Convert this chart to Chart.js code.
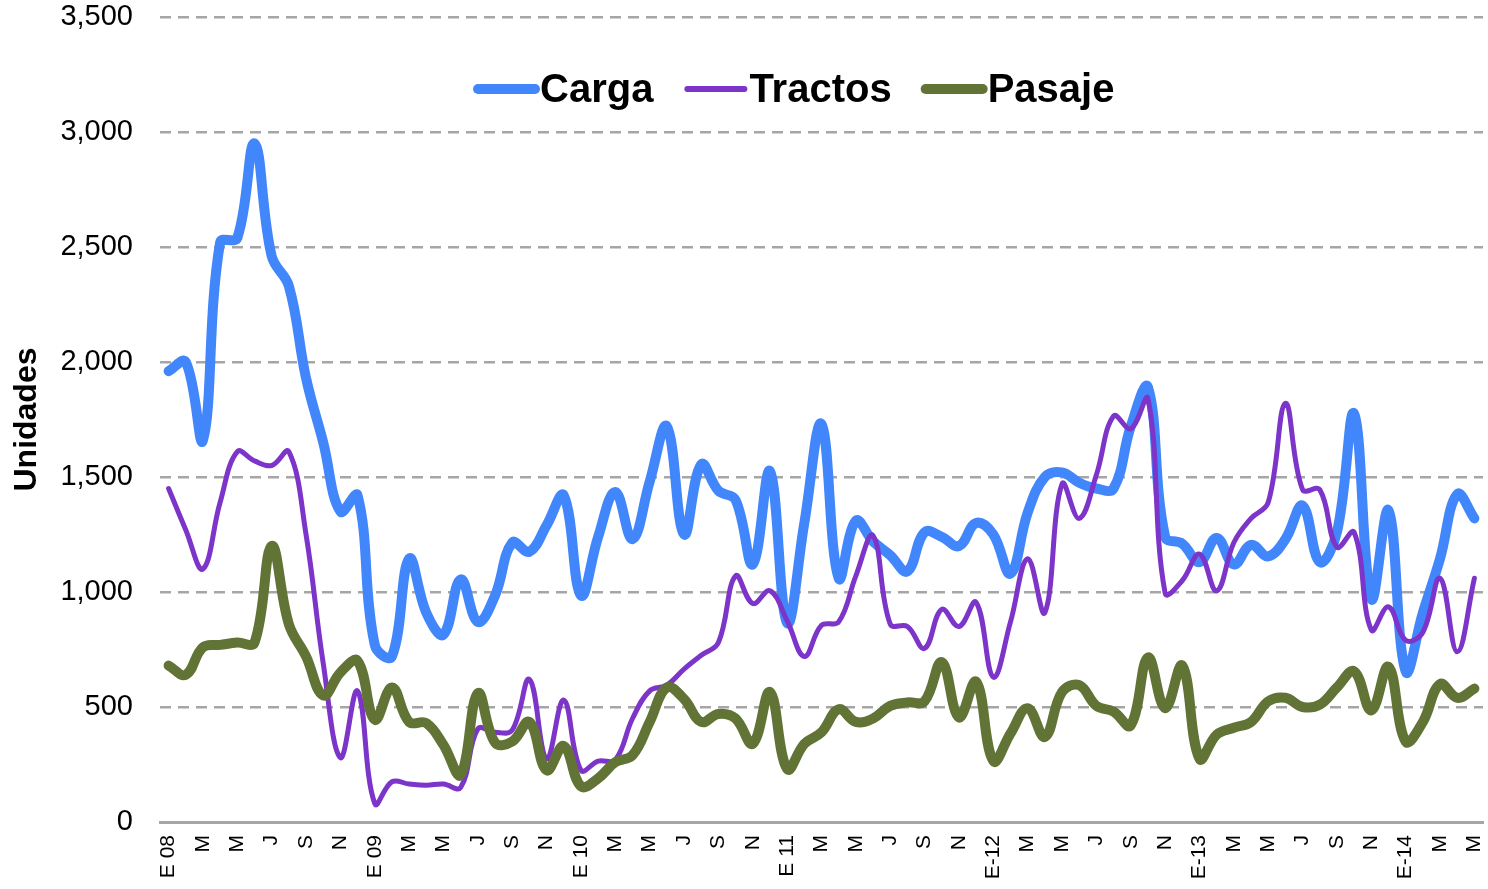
<!DOCTYPE html>
<html>
<head>
<meta charset="utf-8">
<script src="https://cdn.jsdelivr.net/npm/chart.js@4"></script>
<style>
  body { margin: 0; background: #fff; }
  #wrap { width: 1488px; height: 889px; }
</style>
</head>
<body>
<div id="wrap"><canvas id="chart"></canvas></div>
<script>
// meses ene-2008 .. may-2014
const months = [
  'E 08','F','M','A','M','J','J','A','S','O','N','D',
  'E 09','F','M','A','M','J','J','A','S','O','N','D',
  'E 10','F','M','A','M','J','J','A','S','O','N','D',
  'E 11','F','M','A','M','J','J','A','S','O','N','D',
  'E-12','F','M','A','M','J','J','A','S','O','N','D',
  'E-13','F','M','A','M','J','J','A','S','O','N','D',
  'E-14','F','M','A','M'
];

const carga = [
  1960, 2000, 1660, 2520, 2540, 2950, 2460, 2330, 1930, 1650, 1350, 1420,
  770, 720, 1145, 910, 815, 1055, 870, 985, 1215, 1175, 1290, 1420,
  985, 1240, 1435, 1230, 1480, 1720, 1250, 1555, 1440, 1400, 1120, 1525,
  865, 1300, 1730, 1060, 1310, 1220, 1160, 1090, 1260, 1240, 1200, 1300,
  1250, 1080, 1345, 1500, 1520, 1475, 1450, 1450, 1720, 1890, 1240, 1210,
  1130, 1235, 1120, 1205, 1155, 1230, 1375, 1130, 1260, 1775, 970, 1355,
  655, 910, 1145, 1425, 1320
];

const tractos = [
  1450, 1270, 1100, 1390, 1610, 1570, 1550, 1610, 1250, 690, 280, 570,
  80, 175, 165, 160, 165, 150, 405, 390, 400, 620, 275, 530,
  225, 265, 270, 450, 570, 595, 665, 725, 780, 1070, 950, 1005,
  875, 720, 855, 870, 1070, 1245, 860, 850, 755, 925, 850, 955,
  630, 870, 1145, 910, 1470, 1320, 1510, 1765, 1710, 1840, 995, 1050,
  1165, 1005, 1215, 1320, 1390, 1820, 1445, 1445, 1195, 1260, 835, 935,
  790, 825, 1060, 740, 1060
];

const pasaje = [
  680, 640, 760, 770, 780, 780, 1200, 860, 720, 550, 650, 700,
  445, 585, 435, 430, 335, 205, 560, 345, 350, 435, 225, 330,
  155, 190, 260, 290, 435, 585, 535, 435, 470, 450, 340, 565,
  230, 340, 390, 490, 435, 450, 505, 520, 525, 695, 455, 610,
  265, 385, 495, 370, 565, 595, 505, 480, 420, 715, 495, 680,
  275, 380, 410, 435, 525, 540, 500, 510, 585, 655, 485, 675,
  350, 435, 600, 540, 580
];

const yTicks = [0, 500, 1000, 1500, 2000, 2500, 3000, 3500];

const FONT = '"Liberation Sans", Arial, sans-serif';

// leyenda dentro del area del grafico
const inlineLegend = {
  id: 'inlineLegend',
  afterDraw(chart) {
    const { ctx, chartArea } = chart;
    ctx.save();
    ctx.font = 'bold 40px ' + FONT;
    ctx.textBaseline = 'middle';
    let x = chartArea.left + 318;
    const y = 89;
    chart.data.datasets.forEach(ds => {
      ctx.strokeStyle = ds.borderColor;
      ctx.lineWidth = ds.legendWidth;
      ctx.lineCap = 'round';
      ctx.beginPath();
      ctx.moveTo(x, y);
      ctx.lineTo(x + 57, y);
      ctx.stroke();
      x += 62;
      ctx.fillStyle = '#000';
      ctx.fillText(ds.label, x, y + 2);
      x += ctx.measureText(ds.label).width + 34;
    });
    ctx.restore();
  }
};

new Chart(document.getElementById('chart'), {
  type: 'line',
  data: {
    labels: months,
    datasets: [
      { label: 'Carga', data: carga, borderColor: '#4186fb', borderWidth: 10, legendWidth: 10, order: 2 },
      { label: 'Tractos', data: tractos, borderColor: '#7c35c8', borderWidth: 5, legendWidth: 6, order: 1 },
      { label: 'Pasaje', data: pasaje, borderColor: '#617335', borderWidth: 10, legendWidth: 10, order: 0 }
    ].map(d => Object.assign(d, {
      pointRadius: 0,
      tension: 0.4,
      fill: false,
      borderCapStyle: 'round',
      borderJoinStyle: 'round'
    }))
  },
  options: {
    responsive: true,
    maintainAspectRatio: false,
    animation: false,
    layout: { padding: { top: 17, right: 5, bottom: 0, left: 0 } },
    plugins: {
      legend: { display: false },
      tooltip: { enabled: false }
    },
    scales: {
      x: {
        offset: true,
        grid: { display: false, drawTicks: false },
        border: { display: true, color: '#a6a6a6', width: 3 },
        ticks: {
          autoSkip: false,
          maxRotation: 90,
          minRotation: 90,
          padding: 13,
          color: '#000',
          font: { family: FONT, size: 21 },
          callback: function(value, index) {
            return index % 2 === 0 ? months[index] : '';
          }
        },
        afterFit(scale) {
          scale.height = 67;
          scale.paddingLeft = 0;
          scale.paddingRight = 0;
        }
      },
      y: {
        min: 0,
        max: 3500,
        border: { display: false, dash: [11, 7] },
        grid: {
          drawTicks: false,
          lineWidth: 2.5,
          color: ctx => ctx.tick && ctx.tick.value === 0 ? 'rgba(0,0,0,0)' : '#a6a6a6'
        },
        afterBuildTicks(scale) {
          scale.ticks = yTicks.map(v => ({ value: v }));
        },
        ticks: {
          padding: 27,
          color: '#000',
          font: { family: FONT, size: 29 }
        },
        title: {
          display: true,
          text: 'Unidades',
          color: '#000',
          font: { family: FONT, size: 32, weight: 'bold' },
          padding: { top: 8, bottom: 0 }
        },
        afterFit(scale) {
          scale.width = 160;
          scale.paddingTop = 0;
          scale.paddingBottom = 0;
        }
      }
    }
  },
  plugins: [inlineLegend]
});
</script>
</body>
</html>
